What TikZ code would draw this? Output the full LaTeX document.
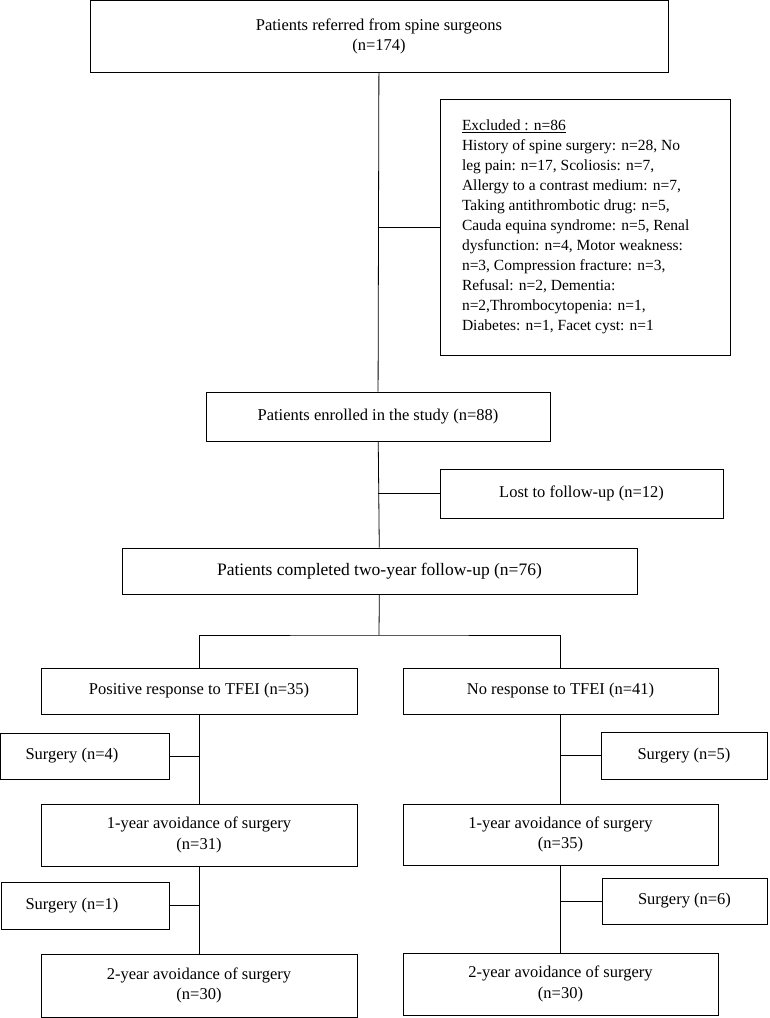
\documentclass[tikz,border=0pt]{standalone}
\usepackage{fontspec}
\setmainfont{Liberation Serif}
\usetikzlibrary{positioning}

\tikzset{
  box/.style={draw,rectangle,align=center,inner sep=0pt,
    font=\fontsize{16.5}{20.5}\selectfont},
  sidebox/.style={box,text width=119pt,align=flush left},
}

\begin{document}
\begin{tikzpicture}[x=1pt,y=-1pt,line width=0.8pt]
  \useasboundingbox (0,0) rectangle (769,1018);
  % main column
  \node[box,minimum width=578pt,minimum height=72pt] (ref)  at (379,36.5)
    {Patients referred from spine surgeons\\(n=174)};
  \node[box,minimum width=290pt,minimum height=256pt,text width=246pt,align=flush left,
        font=\fontsize{15.5}{20}\selectfont] (excl) at (585,227)
    {\underline{Excluded : n=86}\\
     History of spine surgery: n=28, No\\
     leg pain: n=17, Scoliosis: n=7,\\
     Allergy to a contrast medium: n=7,\\
     Taking antithrombotic drug: n=5,\\
     Cauda equina syndrome: n=5, Renal\\
     dysfunction: n=4, Motor weakness:\\
     n=3, Compression fracture: n=3,\\
     Refusal: n=2, Dementia:\\
     n=2,Thrombocytopenia: n=1,\\
     Diabetes: n=1, Facet cyst: n=1};
  \node[box,minimum width=344pt,minimum height=49pt] (enr)  at (378,416.5)
    {Patients enrolled in the study (n=88)};
  \node[box,minimum width=283pt,minimum height=49pt] (lost) at (581.5,493.5)
    {Lost to follow-up (n=12)};
  \node[box,minimum width=515pt,minimum height=46pt,
        font=\fontsize{17.5}{21}\selectfont] (done) at (379.5,571)
    {Patients completed two-year follow-up (n=76)};
  \coordinate (split) at (379,635);
  % left branch
  \node[box,minimum width=316pt,minimum height=46pt] (pos) at (199,691)
    {Positive response to TFEI (n=35)};
  \node[sidebox,minimum width=169pt,minimum height=46pt] (s_4) at (85,756)
    {Surgery (n=4)};
  \node[box,minimum width=316pt,minimum height=62pt] (y1_l) at (199,835)
    {1-year avoidance of surgery\\(n=31)};
  \node[sidebox,minimum width=168pt,minimum height=47pt] (s_1) at (85,905.5)
    {Surgery (n=1)};
  \node[box,minimum width=316pt,minimum height=63pt] (y2_l) at (199,985.5)
    {2-year avoidance of surgery\\(n=30)};
  % right branch
  \node[box,minimum width=315pt,minimum height=46pt] (nores) at (560.5,691)
    {No response to TFEI (n=41)};
  \node[box,minimum width=166pt,minimum height=47pt] (s_5) at (684,755.5)
    {Surgery (n=5)};
  \node[box,minimum width=315pt,minimum height=61pt] (y1_r) at (560.5,834.5)
    {1-year avoidance of surgery\\(n=35)};
  \node[box,minimum width=165pt,minimum height=46pt] (s_6) at (684.5,901)
    {Surgery (n=6)};
  \node[box,minimum width=315pt,minimum height=62pt] (y2_r) at (560.5,984)
    {2-year avoidance of surgery\\(n=30)};

  \draw (ref) -- (enr);
  \draw (excl.west) -- (excl.west -| ref.south);
  \draw (enr) -- (done);
  \draw (lost.west) -- (lost.west -| enr.south);
  \draw (done) -- (split);
  \draw (pos.north) |- (split) -| (nores.north);
  \draw (pos) -- (y1_l);
  \draw (s_4.east) -- (s_4.east -| pos.south);
  \draw (y1_l) -- (y2_l);
  \draw (s_1.east) -- (s_1.east -| y1_l.south);
  \draw (nores) -- (y1_r);
  \draw (s_5.west) -- (s_5.west -| nores.south);
  \draw (y1_r) -- (y2_r);
  \draw (s_6.west) -- (s_6.west -| y1_r.south);
\end{tikzpicture}
\end{document}
